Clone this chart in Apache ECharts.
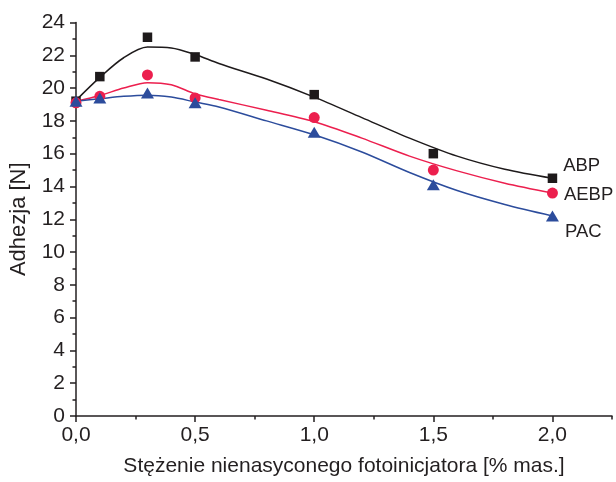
<!DOCTYPE html>
<html>
<head>
<meta charset="utf-8">
<script src="https://cdn.jsdelivr.net/npm/echarts@6/dist/echarts.min.js"></script>
<style>html,body{margin:0;padding:0;background:#fff}#c{width:616px;height:482px}</style>
</head>
<body>
<div id="c"></div>
<script>
// Measured points
const xPoints = [0, 0.1, 0.3, 0.5, 1.0, 1.5, 2.0];
const abpPoints = [19.2, 20.7, 23.1, 21.9, 19.6, 16.0, 14.5];
const aebpPoints = [19.1, 19.5, 20.8, 19.4, 18.2, 15.0, 13.6];
const pacPoints = [19.2, 19.4, 19.7, 19.1, 17.3, 14.1, 12.2];

// Fitted curves
const xCurve = [0, 0.1, 0.2, 0.3, 0.4, 0.5, 0.6, 0.8, 1.0, 1.2, 1.4, 1.6, 1.8, 2.0];
const abpCurve = [19.25, 20.65, 21.85, 22.5, 22.45, 22.05, 21.5, 20.55, 19.45, 18.2, 16.95, 15.85, 15.05, 14.5];
const aebpCurve = [19.2, 19.55, 20.0, 20.33, 20.2, 19.65, 19.3, 18.65, 17.95, 16.95, 15.85, 14.95, 14.2, 13.6];
const pacCurve = [19.2, 19.35, 19.5, 19.57, 19.45, 19.15, 18.85, 18.0, 17.15, 16.1, 14.85, 13.75, 12.9, 12.2];

const seriesNames = ['ABP', 'AEBP', 'PAC'];
const xMajorTicks = [0, 0.5, 1.0, 1.5, 2.0];
const xMinorTicks = [0.25, 0.75, 1.25, 1.75, 2.25];

const colors = ['#1e1a1b', '#ec1f4e', '#2c4c9c'];
const axisColor = '#231f20';
const font = 'Liberation Sans, Arial, sans-serif';

function zip(xs, ys) { return xs.map((x, i) => [x, ys[i]]); }

const chart = echarts.init(document.getElementById('c'), null, {renderer: 'canvas'});
const curves = [abpCurve, aebpCurve, pacCurve];
const points = [abpPoints, aebpPoints, pacPoints];
const symbols = ['rect', 'circle', 'triangle'];
const sizes = [9.5, 11, [13, 11]];
const labelOffsets = [[0, -12], [0, 2], [0, 16]];

const series = [];
for (let i = 0; i < 3; i++) {
  series.push({
    type: 'line', data: zip(xCurve, curves[i]), smooth: 0.3, showSymbol: false,
    lineStyle: {color: colors[i], width: 1.5}, z: 2, silent: true
  });
}
for (let i = 0; i < 3; i++) {
  series.push({
    type: 'scatter', name: seriesNames[i], data: zip(xPoints, points[i]),
    symbol: symbols[i], symbolSize: sizes[i],
    itemStyle: {color: colors[i], opacity: 1}, z: 3,
    label: {
      show: true, position: 'right', distance: 6, offset: labelOffsets[i],
      fontFamily: font, fontSize: 18.5, color: axisColor,
      formatter: p => p.dataIndex === xPoints.length - 1 ? seriesNames[i] : ''
    }
  });
}

chart.setOption({
  animation: false,
  backgroundColor: '#fff',
  grid: {left: 76, right: 4, top: 22.5, bottom: 65.5, containLabel: false},
  xAxis: [{
    type: 'value', min: 0, max: 2.25, interval: 0.25,
    name: 'Stężenie nienasyconego fotoinicjatora [% mas.]',
    nameLocation: 'middle', nameGap: 40,
    nameTextStyle: {fontFamily: font, fontSize: 21, color: axisColor},
    axisLine: {show: true, lineStyle: {color: axisColor, width: 1.5}},
    axisTick: {show: true, customValues: xMajorTicks, length: 6, lineStyle: {color: axisColor, width: 1.5}},
    axisLabel: {customValues: xMajorTicks, fontFamily: font, fontSize: 21, color: axisColor, margin: 9,
      formatter: v => v.toFixed(1).replace('.', ',')},
    splitLine: {show: false}
  }, {
    type: 'value', min: 0, max: 2.25, interval: 0.25, position: 'bottom',
    axisLine: {show: false},
    axisTick: {show: true, customValues: xMinorTicks, length: 3.5, lineStyle: {color: axisColor, width: 1.5}},
    axisLabel: {show: false},
    splitLine: {show: false}
  }],
  yAxis: {
    type: 'value', min: 0, max: 24, interval: 2,
    name: 'Adhezja [N]', nameLocation: 'middle', nameGap: 46,
    nameTextStyle: {fontFamily: font, fontSize: 22, color: axisColor},
    axisLine: {show: true, lineStyle: {color: axisColor, width: 1.5}},
    axisTick: {show: true, length: 6, lineStyle: {color: axisColor, width: 1.5}},
    minorTick: {show: true, splitNumber: 2, length: 3.5, lineStyle: {color: axisColor, width: 1.5}},
    axisLabel: {fontFamily: font, fontSize: 21, color: axisColor, margin: 11},
    splitLine: {show: false}, minorSplitLine: {show: false}
  },
  series: series
});
</script>
</body>
</html>
